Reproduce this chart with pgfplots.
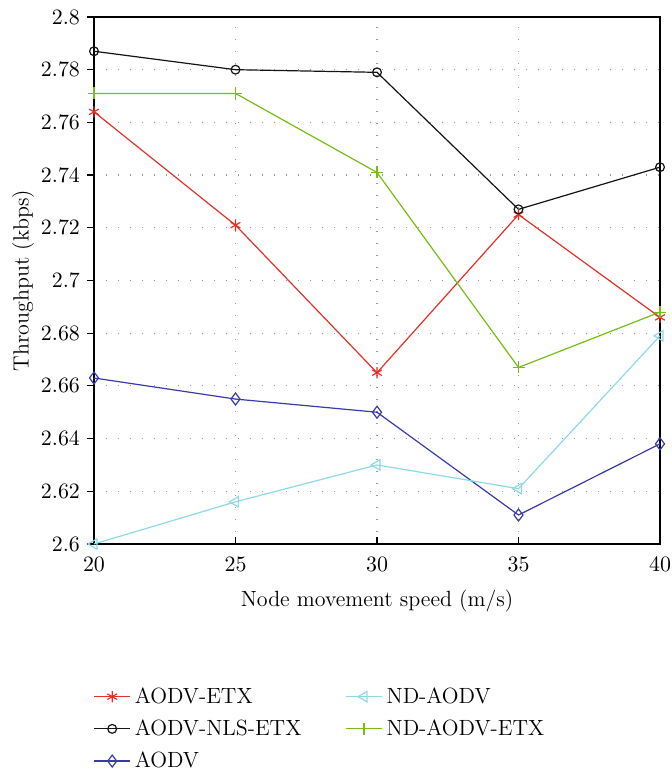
\documentclass[border=0pt]{standalone}
\usepackage{pgfplots}
\pgfplotsset{compat=1.18}
\definecolor{etxred}{RGB}{228,48,38}
\definecolor{nlsblack}{RGB}{20,20,20}
\definecolor{aodvblue}{RGB}{58,58,168}
\definecolor{ndcyan}{RGB}{140,218,232}
\definecolor{ndgreen}{RGB}{118,190,20}
\begin{document}
\begin{tikzpicture}
\useasboundingbox (-47pt,-112.5pt) rectangle (288.5pt,272pt);
\begin{axis}[
  scale only axis,
  width=283pt, height=263.5pt,
  xmin=20, xmax=40, ymin=2.6, ymax=2.8,
  xtick={20,25,30,35,40},
  ytick={2.6,2.62,...,2.81},
  yticklabel style={/pgf/number format/fixed,/pgf/number format/precision=2},
  scaled y ticks=false,
  tick label style={font=\fontsize{11}{13}\selectfont},
  label style={font=\fontsize{11}{13}\selectfont},
  xtick align=inside, ytick align=outside, tick pos=left,
  major tick length=3.5pt,
  xticklabel style={yshift=-3pt},
  grid=major,
  major grid style={gray!80, line width=0.6pt, dash pattern=on 0.6pt off 5.4pt},
  axis line style={line width=0.6pt},
  tick style={black, line width=0.6pt},
  xlabel={Node movement speed (m/s)},
  ylabel={Throughput (kbps)},
  xlabel style={at={(axis description cs:0.5,-0.108)}, anchor=center},
  ylabel style={at={(axis description cs:-0.125,0.5)}, anchor=center},
  clip=false,
  legend style={at={(-0.012,-0.256)}, anchor=north west, draw=none, fill=none,
    /tikz/every even column/.append style={column sep=20pt},
    row sep=2.75pt, font=\fontsize{11}{13}\selectfont},
  legend image code/.code={
    \draw[mark repeat=2,mark phase=2] plot coordinates {(0pt,0pt) (9pt,0pt) (18pt,0pt)};},
  legend cell align=left,
  transpose legend,
  legend columns=3,
  every axis plot/.append style={line width=0.6pt},
]
\addplot[draw=etxred, mark=asterisk, mark size=2.8pt, mark options={etxred}] coordinates {
 (20,2.764) (25,2.721) (30,2.665) (35,2.725) (40,2.686)};
\addlegendentry{AODV-ETX}
\addplot[draw=nlsblack, mark=o, mark size=2.2pt, mark options={nlsblack}] coordinates {
 (20,2.787) (25,2.780) (30,2.779) (35,2.727) (40,2.743)};
\addlegendentry{AODV-NLS-ETX}
\addplot[draw=aodvblue, mark=diamond, mark size=3pt, mark options={aodvblue}] coordinates {
 (20,2.663) (25,2.655) (30,2.650) (35,2.611) (40,2.638)};
\addlegendentry{AODV}
\addplot[draw=ndcyan, mark=triangle, mark size=3pt, mark options={ndcyan, rotate=90}] coordinates {
 (20,2.600) (25,2.616) (30,2.630) (35,2.621) (40,2.679)};
\addlegendentry{ND-AODV}
\addplot[draw=ndgreen, mark=+, mark size=3pt, mark options={ndgreen}] coordinates {
 (20,2.771) (25,2.771) (30,2.741) (35,2.667) (40,2.688)};
\addlegendentry{ND-AODV-ETX}
\end{axis}
\end{tikzpicture}
\end{document}
